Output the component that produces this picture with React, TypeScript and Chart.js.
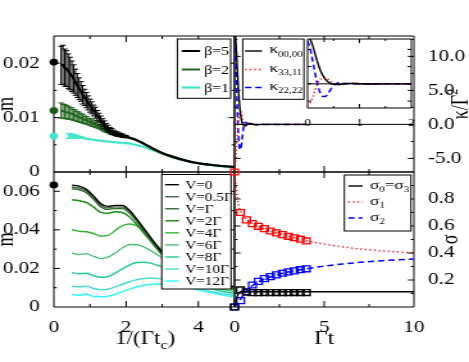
import React, { useEffect, useRef } from 'react';
import { Chart, registerables } from 'chart.js';

Chart.register(...registerables);

// ---------------- data ----------------
// top-left panel: m vs 1/(Γ t_c) for three β
const BETA_X = [
  0.2, 0.25, 0.3, 0.35, 0.4, 0.45, 0.5, 0.55, 0.6, 0.65, 0.7, 0.75, 0.8, 0.85, 0.9, 0.95, 1.0, 1.05, 1.1, 1.15,
  1.2, 1.25, 1.3, 1.35, 1.4, 1.45, 1.5, 1.55, 1.6, 1.65, 1.7, 1.75, 1.8, 1.85, 1.9, 1.95, 2.0,
  2.25, 2.5, 2.75, 3.0, 3.5, 4.0, 4.5, 5.0,
];
const BETA5 = [
  0.0196, 0.0197, 0.0192, 0.0190, 0.0185, 0.0181, 0.0176, 0.0171, 0.0165, 0.0159, 0.0153, 0.0148, 0.0142, 0.0137, 0.0132, 0.0127, 0.0122, 0.0118, 0.0113, 0.0109,
  0.0104, 0.0100, 0.0095, 0.0091, 0.0087, 0.0083, 0.0080, 0.0077, 0.0075, 0.0073, 0.0071, 0.0070, 0.0069, 0.0068, 0.0067, 0.0066, 0.0065,
  0.0060, 0.0052, 0.0043, 0.0035, 0.0024, 0.0016, 0.0012, 0.0009,
];
const BETA5_ERR = [
  0.0035, 0.0036, 0.0034, 0.0033, 0.0032, 0.0030, 0.0028, 0.0026, 0.0024, 0.0022, 0.0020, 0.0018, 0.0017, 0.0015, 0.0014, 0.0013, 0.0012, 0.0011, 0.0010, 0.0010,
  0.0009, 0.0008, 0.0008, 0.0007, 0.0007, 0.0006, 0.0006, 0.0005, 0.0005, 0.0004, 0.0004, 0.0004, 0.0003, 0.0003, 0.0003, 0.0002, 0.0002,
  0, 0, 0, 0, 0, 0, 0, 0,
];
const BETA2 = [
  0.0113, 0.0112, 0.0111, 0.0110, 0.0109, 0.0108, 0.0107, 0.0105, 0.0104, 0.0102, 0.0101, 0.0099, 0.0098, 0.0096, 0.0095, 0.0093, 0.0092, 0.0090, 0.0089, 0.0087,
  0.0086, 0.0084, 0.0082, 0.0080, 0.0078, 0.0076, 0.0075, 0.0073, 0.0072, 0.0070, 0.0069, 0.0068, 0.0067, 0.0066, 0.0065, 0.0065, 0.0064,
  0.0059, 0.0051, 0.0042, 0.0034, 0.0023, 0.0016, 0.0012, 0.0009,
];
const BETA2_ERR = [
  0.0014, 0.0013, 0.0013, 0.0012, 0.0012, 0.0011, 0.0011, 0.0010, 0.0010, 0.0009, 0.0009, 0.0008, 0.0008, 0.0007, 0.0007, 0.0006, 0.0006, 0.0006, 0.0005, 0.0005,
  0.0005, 0.0004, 0.0004, 0.0004, 0.0004, 0.0003, 0.0003, 0.0003, 0.0003, 0.0002, 0.0002, 0.0002, 0.0002, 0.0001, 0.0001, 0.0001, 0.0001,
  0, 0, 0, 0, 0, 0, 0, 0,
];
const BETA1 = [
  null, null, null, null, 0.0066, 0.0067, 0.0066, 0.0066, 0.0065, 0.0065, 0.0064, 0.0064, 0.0063, 0.0062, 0.0061, 0.0061, 0.0060, 0.0060, 0.0059, 0.0059,
  0.0058, 0.0058, 0.0057, 0.0057, 0.0057, 0.0056, 0.0056, 0.0056, 0.0055, 0.0055, 0.0055, 0.0054, 0.0054, 0.0054, 0.0053, 0.0053, 0.0053,
  0.0050, 0.0046, 0.0040, 0.0034, 0.0023, 0.0016, 0.0011, 0.0008,
];
const BETA1_ERR = [
  0, 0, 0, 0, 0.0004, 0.0004, 0.0004, 0.0003, 0.0003, 0.0002, 0.0002, 0.0001, 0.0001, 0, 0, 0, 0, 0, 0, 0,
  0, 0, 0, 0, 0, 0, 0, 0, 0, 0, 0, 0, 0, 0, 0, 0, 0,
  0, 0, 0, 0, 0, 0, 0, 0,
];
const BETA_LABELS = ['β=5', 'β=2', 'β=1'];
const BETA_COLORS = ['#000000', '#1e641e', '#40e6cc'];
const BETA_DOTS = [0.0202, 0.0113, 0.0066]; // values at 1/(Γt_c) = 0

// bottom-left panel: m vs 1/(Γ t_c) for several V
const V_X = [0.5, 0.7, 0.9, 1.1, 1.3, 1.5, 1.7, 1.9, 2.1, 2.3, 2.5, 2.7, 2.9, 3.1, 3.5, 4.0, 4.5, 5.0];
const M_V0 = [0.0632, 0.0627, 0.0610, 0.0575, 0.0535, 0.0522, 0.0527, 0.0526, 0.0500, 0.0455, 0.0405, 0.0355, 0.0305, 0.0262, 0.0205, 0.0155, 0.0125, 0.0105];
const M_V05 = [0.0622, 0.0617, 0.0601, 0.0566, 0.0527, 0.0514, 0.0519, 0.0518, 0.0493, 0.0449, 0.0399, 0.0350, 0.0301, 0.0258, 0.0201, 0.0151, 0.0121, 0.0101];
const M_V1 = [0.0613, 0.0608, 0.0593, 0.0558, 0.0519, 0.0506, 0.0511, 0.0510, 0.0486, 0.0442, 0.0393, 0.0344, 0.0296, 0.0254, 0.0197, 0.0147, 0.0117, 0.0098];
const M_V2 = [0.0556, 0.0551, 0.0542, 0.0518, 0.0491, 0.0486, 0.0494, 0.0490, 0.0466, 0.0426, 0.0381, 0.0336, 0.0291, 0.0250, 0.0193, 0.0143, 0.0113, 0.0094];
const M_V4 = [0.0402, 0.0393, 0.0390, 0.0381, 0.0367, 0.0371, 0.0397, 0.0422, 0.0430, 0.0420, 0.0391, 0.0351, 0.0311, 0.0272, 0.0210, 0.0150, 0.0112, 0.0090];
const M_V6 = [0.0280, 0.0272, 0.0276, 0.0263, 0.0251, 0.0258, 0.0280, 0.0307, 0.0324, 0.0323, 0.0311, 0.0291, 0.0267, 0.0242, 0.0190, 0.0135, 0.0098, 0.0080];
const M_V8 = [0.0178, 0.0172, 0.0175, 0.0162, 0.0154, 0.0158, 0.0176, 0.0198, 0.0218, 0.0231, 0.0232, 0.0226, 0.0214, 0.0200, 0.0165, 0.0120, 0.0088, 0.0070];
const M_V10 = [0.0108, 0.0104, 0.0108, 0.0096, 0.0090, 0.0092, 0.0104, 0.0118, 0.0131, 0.0142, 0.0148, 0.0150, 0.0147, 0.0142, 0.0125, 0.0098, 0.0075, 0.0060];
const M_V12 = [0.0065, 0.0061, 0.0066, 0.0055, 0.0053, 0.0056, 0.0066, 0.0080, 0.0093, 0.0105, 0.0113, 0.0118, 0.0119, 0.0118, 0.0108, 0.0088, 0.0068, 0.0052];
const V_SERIES = [M_V0, M_V05, M_V1, M_V2, M_V4, M_V6, M_V8, M_V10, M_V12];
const V_LABELS = ['V=0', 'V=0.5Γ', 'V=Γ', 'V=2Γ', 'V=4Γ', 'V=6Γ', 'V=8Γ', 'V=10Γ', 'V=12Γ'];
const V_COLORS = ['#000000', '#4a684a', '#2a6e2a', '#138a13', '#2fb52f', '#48c07a', '#1fcc99', '#48dcd2', '#30f8f8'];
const V_DOT = 0.0633;

// top-right panel (and inset): κ / Γ² vs Γt
const K_T = [0, 0.05, 0.1, 0.15, 0.2, 0.25, 0.3, 0.35, 0.4, 0.45, 0.5, 0.55, 0.6, 0.7, 0.8, 0.9, 1.0, 1.2, 1.5, 2.0, 3.0, 4.0];
const K_0000 = [13.6, 12.9, 11.0, 8.4, 5.9, 3.8, 2.3, 1.2, 0.5, 0.1, -0.1, -0.2, -0.2, -0.05, 0.15, 0.15, 0.05, -0.05, 0, 0, 0, 0];
const K_3311 = [-6.5, -5.6, -3.8, -1.6, 0.3, 1.4, 1.9, 1.8, 1.3, 0.7, 0.2, -0.1, -0.2, -0.05, 0.2, 0.25, 0.1, -0.05, 0, 0, 0, 0];
const K_2222 = [12.4, 10.2, 6.6, 2.6, -0.7, -2.8, -3.7, -3.6, -2.7, -1.5, -0.5, 0.1, 0.3, 0.2, 0, -0.05, 0, 0, 0, 0, 0, 0];
const ZERO_T = [0, 10];
const ZERO_V = [0, 0];

// bottom-right panel: σ vs Γt
const S_T = [0, 0.05, 0.1, 0.15, 0.2, 0.3, 0.4, 0.5, 0.75, 1, 1.5, 2, 2.5, 3, 4, 5, 6, 7, 8, 9, 10];
const S_03 = [0, 0.03, 0.055, 0.078, 0.095, 0.11, 0.115, 0.115, 0.114, 0.113, 0.113, 0.113, 0.113, 0.113, 0.113, 0.113, 0.113, 0.113, 0.113, 0.113, 0.113];
const S_1 = [1.0, 0.93, 0.865, 0.815, 0.775, 0.72, 0.69, 0.67, 0.638, 0.617, 0.586, 0.563, 0.543, 0.525, 0.491, 0.466, 0.446, 0.430, 0.418, 0.409, 0.401];
const S_2 = [0, 0.008, 0.016, 0.025, 0.034, 0.052, 0.07, 0.088, 0.128, 0.158, 0.197, 0.223, 0.243, 0.259, 0.283, 0.303, 0.318, 0.331, 0.341, 0.349, 0.356];
const SQ_T = [0, 0.333, 0.667, 1, 1.333, 1.667, 2, 2.333, 2.667, 3, 3.333, 3.667, 4];
const SQ_03 = [0, 0.126, 0.11, 0.106, 0.106, 0.107, 0.107, 0.107, 0.107, 0.107, 0.107, 0.107, 0.107];
const SQ_1 = [1.0, 0.70, 0.645, 0.618, 0.598, 0.581, 0.563, 0.549, 0.536, 0.524, 0.513, 0.502, 0.489];
const SQ_2 = [0, 0.047, 0.113, 0.163, 0.19, 0.21, 0.225, 0.238, 0.25, 0.26, 0.268, 0.276, 0.283];

// ---------------- drawing helpers ----------------
const FAM = '"Liberation Serif", "Times New Roman", Times, serif';
const CW = 366;
const CH = 362;
const SX = 469 / CW; // horizontal stretch of the whole figure

type Seg = { t: string; f: number; dy?: number };

function drawRich(ctx: any, segs: Seg[], x: number, y: number, align: string, rot?: boolean) {
  ctx.save();
  ctx.translate(x, y);
  if (rot) ctx.rotate(-Math.PI / 2);
  ctx.textBaseline = 'alphabetic';
  ctx.textAlign = 'left';
  ctx.fillStyle = '#000';
  let w = 0;
  for (const s of segs) {
    ctx.font = `${s.f}px ${FAM}`;
    w += ctx.measureText(s.t).width;
  }
  let cx = align === 'center' ? -w / 2 : align === 'right' ? -w : 0;
  for (const s of segs) {
    ctx.font = `${s.f}px ${FAM}`;
    ctx.fillText(s.t, cx, s.dy || 0);
    cx += ctx.measureText(s.t).width;
  }
  ctx.restore();
}

function decorPlugin(d: any) {
  return {
    id: 'decor',
    beforeDatasetsDraw(chart: any) {
      const { ctx, chartArea: a } = chart;
      const xs = chart.scales.x;
      const ys = chart.scales.y;
      ctx.save();
      ctx.strokeStyle = '#000';
      ctx.lineWidth = 1;
      ctx.beginPath();
      const seg = (x1: number, y1: number, x2: number, y2: number) => {
        ctx.moveTo(x1, y1);
        ctx.lineTo(x2, y2);
      };
      const xt = (vals: number[], len: number) =>
        vals.forEach((v) => {
          const p = xs.getPixelForValue(v);
          seg(p, a.bottom, p, a.bottom - len);
          seg(p, a.top, p, a.top + len);
        });
      const yt = (vals: number[], len: number) =>
        vals.forEach((v) => {
          const p = ys.getPixelForValue(v);
          const l = len / SX;
          seg(a.left, p, a.left + l, p);
          seg(a.right, p, a.right - l, p);
        });
      xt(d.xMajor, d.tMaj);
      xt(d.xMinor, d.tMin);
      yt(d.yMajor, d.tMaj);
      yt(d.yMinor, d.tMin);
      ctx.rect(a.left, a.top, a.right - a.left, a.bottom - a.top);
      ctx.stroke();
      ctx.restore();
    },
    afterDatasetDraw(chart: any, args: any) {
      const ds = chart.data.datasets[args.index];
      if (!ds.errors) return;
      const { ctx, chartArea: a } = chart;
      const xs = chart.scales[args.meta.xAxisID];
      const ys = chart.scales[args.meta.yAxisID];
      const c = 2.2;
      ctx.save();
      ctx.beginPath();
      ctx.rect(a.left, a.top, a.right - a.left, a.bottom - a.top);
      ctx.clip();
      ctx.strokeStyle = ds.borderColor;
      ctx.lineWidth = 1;
      ctx.beginPath();
      ds.data.forEach((p: any, j: number) => {
        const e = ds.errors[j];
        if (!e || p.y == null) return;
        const px = xs.getPixelForValue(p.x);
        const y1 = ys.getPixelForValue(p.y - e);
        const y2 = ys.getPixelForValue(p.y + e);
        ctx.moveTo(px, y1);
        ctx.lineTo(px, y2);
        ctx.moveTo(px - c, y1);
        ctx.lineTo(px + c, y1);
        ctx.moveTo(px - c, y2);
        ctx.lineTo(px + c, y2);
      });
      ctx.stroke();
      ctx.restore();
    },
    afterDatasetsDraw(chart: any) {
      const { ctx } = chart;
      const L = d.legend;
      if (L) {
        ctx.save();
        const [x0, y0, x1, y1] = L.box;
        ctx.fillStyle = '#fff';
        ctx.fillRect(x0, y0, x1 - x0, y1 - y0);
        ctx.strokeStyle = '#000';
        ctx.lineWidth = 1;
        ctx.strokeRect(x0, y0, x1 - x0, y1 - y0);
        L.items.forEach((it: any) => {
          const ds = chart.data.datasets[it.ds];
          ctx.strokeStyle = ds.borderColor;
          ctx.lineWidth = ds.borderWidth;
          ctx.setLineDash(ds.borderDash || []);
          ctx.beginPath();
          ctx.moveTo(L.line[0], it.y);
          ctx.lineTo(L.line[1], it.y);
          ctx.stroke();
          ctx.setLineDash([]);
          drawRich(ctx, it.segs, L.textX, it.y + L.base, 'left');
        });
        ctx.restore();
      }
      (d.texts || []).forEach((t: any) => drawRich(ctx, t.segs, t.x, t.y, t.align, t.rot));
    },
  };
}

const fmt2 = (v: number) => (v === 0 ? '0' : v.toFixed(2));
const fmt1 = (v: number) => v.toFixed(1);
const fmt0 = (v: number) => String(v);

function xAxis(min: number, max: number, ticks: number[], show: boolean, size: number, fontSize = 16.5, pad = 4) {
  return {
    type: 'linear',
    position: 'bottom',
    min,
    max,
    grid: { display: false },
    border: { display: false },
    afterFit: (s: any) => {
      s.height = size;
    },
    afterBuildTicks: (s: any) => {
      s.ticks = ticks.map((v) => ({ value: v }));
    },
    ticks: {
      display: show,
      autoSkip: false,
      maxRotation: 0,
      minRotation: 0,
      padding: pad,
      color: '#000',
      font: { family: FAM, size: fontSize, lineHeight: 1 },
      callback: (v: any) => fmt0(Number(v)),
    },
  };
}

function yAxis(min: number, max: number, ticks: number[], show: boolean, size: number, position: string, fmt: (v: number) => string) {
  return {
    type: 'linear',
    position,
    min,
    max,
    grid: { display: false },
    border: { display: false },
    afterFit: (s: any) => {
      s.width = size;
    },
    afterBuildTicks: (s: any) => {
      s.ticks = ticks.map((v) => ({ value: v }));
    },
    ticks: {
      display: show,
      autoSkip: false,
      padding: 3,
      color: '#000',
      font: { family: FAM, size: 16.5, lineHeight: 1 },
      callback: (v: any) => fmt(Number(v)),
    },
  };
}

function baseOptions(pad: any, scales: any) {
  return {
    responsive: false,
    animation: false,
    devicePixelRatio: 1,
    events: [],
    layout: { padding: pad, autoPadding: false },
    plugins: { legend: { display: false }, tooltip: { enabled: false } },
    scales,
  };
}

const pts = (xs: number[], ys: any[]) => xs.map((x, i) => ({ x, y: ys[i] }));

const lineDs = (label: string, xs: number[], ys: any[], color: string, width: number, dash?: number[]) => ({
  label,
  data: pts(xs, ys),
  borderColor: color,
  backgroundColor: color,
  borderWidth: width,
  borderDash: dash || [],
  pointRadius: 0,
  fill: false,
  cubicInterpolationMode: 'monotone',
  spanGaps: false,
});

const DOT = [1.2, 2.4];
const DASH = [5, 3];

// ---------------- panel configs ----------------
function cfgTopLeft() {
  const datasets: any[] = [
    { ...lineDs(BETA_LABELS[0], BETA_X, BETA5, BETA_COLORS[0], 2), errors: BETA5_ERR },
    { ...lineDs(BETA_LABELS[1], BETA_X, BETA2, BETA_COLORS[1], 2), errors: BETA2_ERR },
    { ...lineDs(BETA_LABELS[2], BETA_X, BETA1, BETA_COLORS[2], 2.2), errors: BETA1_ERR },
    {
      label: 'β dots',
      data: BETA_DOTS.map((y) => ({ x: 0, y })),
      showLine: false,
      pointRadius: 3.4,
      pointBorderWidth: 0,
      pointBackgroundColor: ['#000000', '#1a5a1a', '#40e6cc'],
      pointBorderColor: ['#000000', '#1a5a1a', '#40e6cc'],
      clip: false,
    },
  ];
  const decor = {
    xMajor: [2, 4], xMinor: [1, 3], yMajor: [0.01, 0.02], yMinor: [0.005, 0.015], tMaj: 6, tMin: 3,
    legend: {
      box: [138.4, 39, 180.0, 98.3], line: [141.8, 156.1], textX: 159.2, base: 4,
      items: [0, 1, 2].map((i) => ({ ds: i, y: [51, 69.5, 87.5][i], segs: [{ t: BETA_LABELS[i], f: 12.5 }] })),
    },
    texts: [{ segs: [{ t: 'm', f: 18 }], x: 10.4, y: 104, align: 'center', rot: true }],
  };
  return {
    type: 'line',
    data: { datasets },
    options: baseOptions({ left: 0, right: 183, top: 36, bottom: 0 }, {
      x: xAxis(0, 5, [0, 2, 4], false, 190),
      y: yAxis(0, 0.025, [0, 0.01, 0.02], true, 42, 'left', fmt2),
    }),
    plugins: [decorPlugin(decor)],
  };
}

function kappaDatasets() {
  return [
    lineDs('κ00,00', K_T, K_0000, '#000000', 1.4),
    lineDs('κ33,11', K_T, K_3311, '#ff0000', 1.5, DOT),
    lineDs('κ22,22', K_T, K_2222, '#0000ff', 1.5, DASH),
    lineDs('zero', ZERO_T, ZERO_V, '#000000', 1),
  ];
}

function cfgTopRight() {
  const kLabels = [['κ', '00,00'], ['κ', '33,11'], ['κ', '22,22']];
  const decor = {
    xMajor: [5], xMinor: [2.5, 7.5], yMajor: [-5, 0, 5, 10], yMinor: [-2.5, 2.5, 7.5, 12.5], tMaj: 6, tMin: 3,
    legend: {
      box: [189.4, 39, 237.2, 99.3], line: [191.2, 204.5], textX: 210.2, base: 2,
      items: [0, 1, 2].map((i) => ({
        ds: i,
        y: [51, 69.5, 87.5][i],
        segs: [{ t: kLabels[i][0], f: 13.5 }, { t: kLabels[i][1], f: 8.5, dy: 3.5 }],
      })),
    },
    texts: [{ segs: [{ t: 'κ/Γ', f: 18 }, { t: '2', f: 12, dy: -8 }], x: 365, y: 104, align: 'center', rot: true }],
  };
  return {
    type: 'line',
    data: { datasets: kappaDatasets() },
    options: baseOptions({ left: 183, right: 0, top: 36, bottom: 0 }, {
      x: xAxis(0, 10, [0, 5, 10], false, 190),
      y: yAxis(-7, 13, [-5, 0, 5, 10], true, 43, 'right', fmt1),
    }),
    plugins: [decorPlugin(decor)],
  };
}

function cfgInset() {
  const decor = { xMajor: [1], xMinor: [0.5, 1.5], yMajor: [-5, 0, 5, 10], yMinor: [], tMaj: 4, tMin: 2 };
  return {
    type: 'line',
    data: { datasets: kappaDatasets() },
    options: baseOptions({ left: 240, right: 45, top: 39, bottom: 234 }, {
      x: xAxis(0, 2, [0, 1, 2], true, 20, 10.5, 2),
      y: yAxis(-7, 13, [], false, 0, 'left', fmt1),
    }),
    plugins: [decorPlugin(decor)],
  };
}

function cfgBottomLeft() {
  const datasets: any[] = V_SERIES.map((s, i) => lineDs(V_LABELS[i], V_X, s, V_COLORS[i], 1.4));
  datasets.push({
    label: 'V dot',
    data: [{ x: 0, y: V_DOT }],
    showLine: false,
    pointRadius: 3.4,
    pointBorderWidth: 0,
    pointBackgroundColor: '#000',
    pointBorderColor: '#000',
    clip: false,
  });
  const decor = {
    xMajor: [2, 4], xMinor: [1, 3], yMajor: [0.02, 0.04, 0.06], yMinor: [0.01, 0.03, 0.05], tMaj: 6, tMin: 3,
    legend: {
      box: [126.2, 174.5, 180.3, 289], line: [128.8, 139.7], textX: 144.4, base: 4,
      items: V_LABELS.map((l, i) => ({ ds: i, y: 184.7 + i * 12.04, segs: [{ t: l, f: 12 }] })),
    },
    texts: [
      { segs: [{ t: 'm', f: 18 }], x: 10.4, y: 239.5, align: 'center', rot: true },
      { segs: [{ t: '1/(Γt', f: 18 }, { t: 'c', f: 12.5, dy: 5 }, { t: ')', f: 18 }], x: 113.2, y: 343.5, align: 'center' },
    ],
  };
  return {
    type: 'line',
    data: { datasets },
    options: baseOptions({ left: 0, right: 183, top: 172, bottom: 0 }, {
      x: xAxis(0, 5, [0, 2, 4], true, 55),
      y: yAxis(0, 0.07, [0, 0.02, 0.04, 0.06], true, 42, 'left', fmt2),
    }),
    plugins: [decorPlugin(decor)],
  };
}

function cfgBottomRight() {
  const sq = (label: string, ys: number[], color: string) => ({
    label,
    data: pts(SQ_T, ys),
    showLine: false,
    pointStyle: 'rect',
    pointRadius: 4.2,
    pointBorderWidth: 1.3,
    pointBorderColor: color,
    pointBackgroundColor: 'transparent',
    borderColor: color,
    clip: false,
  });
  const datasets: any[] = [
    lineDs('σ0=σ3', S_T, S_03, '#000000', 1.4),
    lineDs('σ1', S_T, S_1, '#ff0000', 1.5, DOT),
    lineDs('σ2', S_T, S_2, '#0000ff', 1.5, DASH),
    sq('σ0 sim', SQ_03, '#000000'),
    sq('σ1 sim', SQ_1, '#ff0000'),
    sq('σ2 sim', SQ_2, '#0000ff'),
  ];
  const decor = {
    xMajor: [5], xMinor: [2.5, 7.5], yMajor: [0.2, 0.4, 0.6, 0.8], yMinor: [0.1, 0.3, 0.5, 0.7, 0.9], tMaj: 6, tMin: 3,
    legend: {
      box: [268.7, 175, 320.7, 231], line: [271.8, 283], textX: 288.7, base: 2.5,
      items: [
        { ds: 0, y: 186, segs: [{ t: 'σ', f: 13.5 }, { t: '0', f: 8.5, dy: 3.5 }, { t: '=σ', f: 13.5 }, { t: '3', f: 8.5, dy: 3.5 }] },
        { ds: 1, y: 202, segs: [{ t: 'σ', f: 13.5 }, { t: '1', f: 8.5, dy: 3.5 }] },
        { ds: 2, y: 218, segs: [{ t: 'σ', f: 13.5 }, { t: '2', f: 8.5, dy: 3.5 }] },
      ],
    },
    texts: [
      { segs: [{ t: 'Γt', f: 18 }], x: 253, y: 343.5, align: 'center' },
      { segs: [{ t: 'σ', f: 18 }], x: 356.6, y: 239.5, align: 'center', rot: true },
    ],
  };
  return {
    type: 'line',
    data: { datasets },
    options: baseOptions({ left: 183, right: 0, top: 172, bottom: 0 }, {
      x: xAxis(0, 10, [0, 5, 10], true, 55),
      y: yAxis(0, 1, [0.2, 0.4, 0.6, 0.8], true, 43, 'right', fmt1),
    }),
    plugins: [decorPlugin(decor)],
  };
}

function Panel({ make }: { make: () => any }) {
  const ref = useRef<HTMLCanvasElement>(null);
  useEffect(() => {
    const chart = new Chart(ref.current as any, make() as any);
    return () => chart.destroy();
  }, []);
  return (
    <canvas
      ref={ref}
      width={CW}
      height={CH}
      style={{ position: 'absolute', left: 0, top: 0, width: '469px', height: '362px' }}
    />
  );
}

export default function App() {
  return (
    <div style={{ position: 'absolute', left: 0, top: 0, width: 469, height: 362, background: '#fff', overflow: 'hidden' }}>
      <Panel make={cfgTopLeft} />
      <Panel make={cfgTopRight} />
      <Panel make={cfgBottomLeft} />
      <Panel make={cfgBottomRight} />
      <Panel make={cfgInset} />
    </div>
  );
}
